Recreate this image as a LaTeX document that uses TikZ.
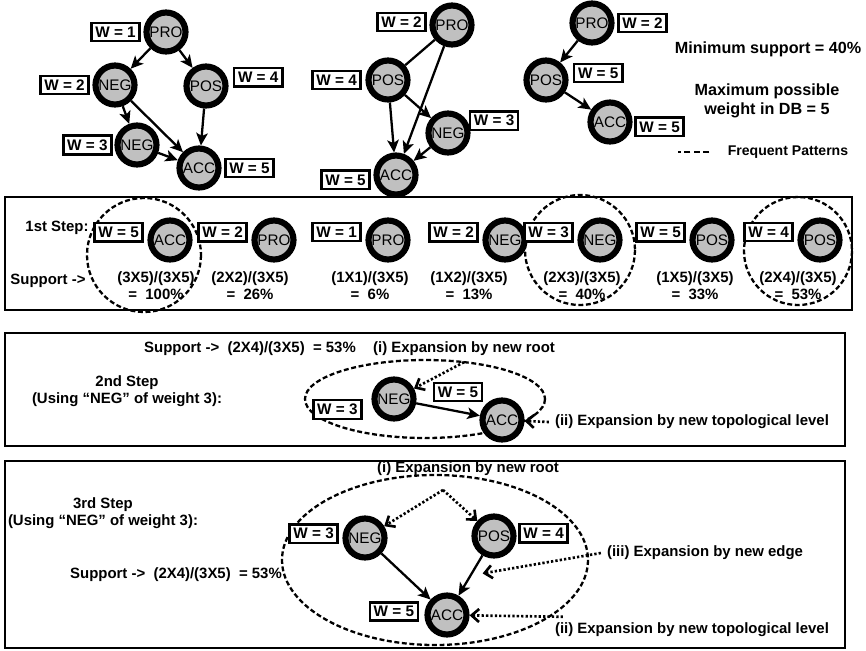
\documentclass[tikz,border=0pt]{standalone}
\usepackage{fontspec}
\setmainfont{Liberation Sans}
\usepackage{tikz}
\usetikzlibrary{arrows.meta,positioning}
\definecolor{disc}{HTML}{C0C0C0}
\tikzset{
  vtx/.style={circle,draw,line width=3.5pt,fill=disc,minimum size=0.78cm,inner sep=0pt,font=\fontsize{8.7}{9}\selectfont},
  wbox/.style={draw,line width=1.4pt,fill=white,inner sep=2.2pt,font=\bfseries\fontsize{8.7}{9}\selectfont},
  lbl/.style={font=\bfseries\fontsize{8.5}{9.7}\selectfont,align=center},
  big/.style={font=\bfseries\fontsize{9.2}{10.8}\selectfont,align=center},
  stepframe/.style={line width=1.5pt},
  arr/.style={-{Stealth[length=2.5mm,width=2.3mm,inset=0.6mm]},line width=1.3pt},
  dotarr/.style={-{Straight Barb[length=1.5mm,width=2.6mm]},line width=1.5pt,dash pattern=on 1.3pt off 1.2pt},
  freq/.style={line width=1.3pt,dash pattern=on 2.8pt off 1.5pt}
}
\begin{document}
\begin{tikzpicture}[x=0.02cm,y=-0.02cm]
  \useasboundingbox (0,0) rectangle (866,650);
  % graph 1
  \node[vtx] (pro1) at (166,32) {PRO};
  \node[vtx] (neg1) at (115,85) {NEG};
  \node[vtx] (pos1) at (206,86) {POS};
  \node[vtx] (neg1b) at (137,145) {NEG};
  \node[vtx] (acc1) at (199,168) {ACC};
  \node[wbox,left=1.5pt of pro1] (w1a) {W = 1};
  \node[wbox,left=1.5pt of neg1] (w1b) {W = 2};
  \node[wbox,right=2.5pt of pos1,yshift=5pt] (w1c) {W = 4};
  \node[wbox,left=1pt of neg1b] (w1d) {W = 3};
  \node[wbox,right=1.5pt of acc1] (w1e) {W = 5};
  \draw[arr] (pro1)--(neg1); \draw[arr] (pro1)--(pos1); \draw[arr] (neg1)--(neg1b);
  \draw[arr] (neg1)--(acc1); \draw[arr] (neg1b)--(acc1); \draw[arr] (pos1)--(acc1);
  % graph 2
  \node[vtx] (pro2) at (452,25) {PRO};
  \node[vtx] (pos2) at (388,80) {POS};
  \node[vtx] (neg2) at (448,133) {NEG};
  \node[vtx] (acc2) at (396,175) {ACC};
  \node[wbox,left=1.5pt of pro2,yshift=1.7pt] (w2a) {W = 2};
  \node[wbox,left=2pt of pos2] (w2b) {W = 4};
  \node[wbox,right=-1pt of neg2,yshift=7pt] (w2c) {W = 3};
  \node[wbox,left=1.5pt of acc2,yshift=-2.8pt] (w2d) {W = 5};
  \draw[line width=1.3pt] (pro2)--(pos2); \draw[arr] (pro2)--(acc2);
  \draw[arr] (pos2)--(acc2); \draw[arr] (pos2)--(neg2); \draw[arr] (neg2)--(acc2);
  % graph 3
  \node[vtx] (pro3) at (592,23) {PRO};
  \node[vtx] (pos3) at (546,80) {POS};
  \node[vtx] (acc3) at (610,122) {ACC};
  \node[wbox,right=1.5pt of pro3] (w3a) {W = 2};
  \node[wbox,right=2.5pt of pos3,yshift=4pt] (w3b) {W = 5};
  \node[wbox,right=1pt of acc3,yshift=-2.8pt] (w3c) {W = 5};
  \draw[arr] (pro3)--(pos3); \draw[arr] (pos3)--(acc3);
  % legend
  \node[big] (minsup) at (768,49) {Minimum support = 40\%};
  \node[big] (maxw) at (767,101) {Maximum possible\\weight in DB = 5};
  \node[font=\bfseries\fontsize{8}{9}\selectfont] (fp) at (788,152) {Frequent Patterns};
  \draw[line width=1.6pt,dash pattern=on 3.6pt off 1.8pt] ([xshift=-7pt]fp.west) -- ++(-18pt,0);

  % 1st step
  \draw[stepframe] (5,197) rectangle (852,310);
  \draw[freq] (144,255) circle[radius=57];
  \draw[freq] (580,250) circle[radius=55];
  \draw[freq] (798,251) circle[radius=54];
  \node[lbl] (st1) at (57,228) {1st Step:};
  \node[lbl] (sup1) at (48,281) {Support ->};
  \foreach \n/\cx/\w/\tx/\f/\p in {ACC/170/5/156/3X5/100,PRO/274/2/250/2X2/26,PRO/388/1/370/1X1/6,
      NEG/505/2/469/1X2/13,NEG/600/3/582/2X3/40,POS/712/5/695/1X5/33,POS/820/4/798/2X4/53}{
    \node[vtx] (s\cx) at (\cx,240) {\n};
    \node[wbox,left=2pt of s\cx,yshift=4.5pt] (sw\cx) {W = \w};
    \node[lbl] (sf\cx) at (\tx,286) {(\f)/(3X5)\\=~~\p\%};
  }

  % 2nd step
  \draw[stepframe] (5,333) rectangle (845,446);
  \node[lbl] (sup2) at (250,349) {Support ->~~(2X4)/(3X5)~~= 53\%};
  \node[lbl] (st2) at (127,391) {2nd Step\\(Using ``NEG'' of weight 3):};
  \draw[freq] (425,399) ellipse[x radius=120,y radius=39];
  \node[vtx] (neg4) at (394,399) {NEG};
  \node[vtx] (acc4) at (502,420) {ACC};
  \node[wbox,left=5pt of neg4,yshift=-6pt] (w4a) {W = 3};
  \node[wbox] (w4b) at (458,392) {W = 5};
  \draw[arr] (neg4)--(acc4);
  \node[lbl] (ri4) at (464,349) {(i) Expansion by new root};
  \node[lbl] (rii4) at (692,422) {(ii) Expansion by new topological level};
  \draw[dotarr] (ri4.south) -- (neg4);
  \draw[dotarr] (rii4.west) -- (acc4);

  % 3rd step
  \draw[stepframe] (5,461) rectangle (845,648);
  \node[lbl] (st3) at (103,513) {3rd Step\\(Using ``NEG'' of weight 3):};
  \node[lbl] (sup3) at (176,575) {Support ->~~(2X4)/(3X5)~~= 53\%};
  \draw[freq] (435,560) ellipse[x radius=153,y radius=85];
  \node[vtx] (neg5) at (365,538) {NEG};
  \node[vtx] (pos5) at (494,536) {POS};
  \node[vtx] (acc5) at (447,615) {ACC};
  \node[wbox,left=2pt of neg5,yshift=2.5pt] (w5a) {W = 3};
  \node[wbox,right=1pt of pos5,yshift=1.5pt] (w5b) {W = 4};
  \node[wbox,left=3pt of acc5,yshift=2pt] (w5c) {W = 5};
  \draw[arr] (neg5)--(acc5);
  \draw[arr] (pos5)-- coordinate (mid5) (acc5);
  \node[lbl] (ri5) at (468,469) {(i) Expansion by new root};
  \coordinate (rt5) at (443,490);
  \draw[dotarr] (rt5)--(neg5); \draw[dotarr] (rt5)--(pos5);
  \node[lbl] (riii5) at (705,553) {(iii) Expansion by new edge};
  \draw[dotarr,shorten >=7pt] (riii5.west) -- (mid5);
  \node[lbl] (rii5) at (692,630) {(ii) Expansion by new topological level};
  \draw[dotarr] ([xshift=8pt]rii5.north west) -- (acc5);
\end{tikzpicture}
\end{document}
